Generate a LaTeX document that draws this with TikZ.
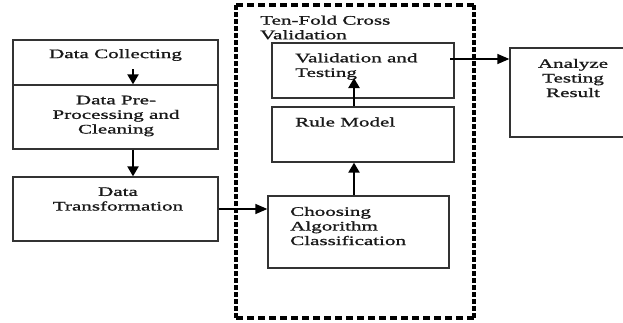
\documentclass[tikz,border=0pt]{standalone}
\usepackage{fontspec}
\setmainfont{Liberation Serif}[FakeStretch=1.62, FakeBold=1.2]
\usetikzlibrary{arrows.meta}

\tikzset{
  box/.style={draw=black!80, line width=1.3pt, rectangle, inner sep=0pt},
  lbl/.style={inner sep=0pt, align=center, font=\fontsize{13}{14.6}\selectfont, text=black!90},
  lbll/.style={lbl, align=left, anchor=west},
  varrow/.style={line width=2.2pt, -{Triangle[length=10pt,width=11pt]}},
  harrow/.style={line width=1.4pt, -{Triangle[length=12pt,width=10pt]}},
  cvbox/.style={line width=3.2pt}
}

\begin{document}
\begin{tikzpicture}[x=1pt,y=-1pt]
\useasboundingbox (0,0) rectangle (623,322);
\clip (0,0) rectangle (623,322);

% left column: collecting, pre-processing, transformation
\node[box, minimum width=205pt, minimum height=45pt] (dc) at (115.5,62.5) {};
\node[box, minimum width=205pt, minimum height=64pt] (dp) at (115.5,117) {};
\node[box, minimum width=205pt, minimum height=64pt] (dt) at (115.5,209) {};
\node[lbl] (dcl) at (115.5,55) {Data Collecting};
\node[lbl] (dpl) at (116,116) {Data Pre-\\Processing and\\Cleaning};
\node[lbl] (dtl) at (118,199) {Data\\Transformation};

% ten-fold cross validation frame
\coordinate (f1) at (236,5);
\coordinate (f2) at (474,5);
\coordinate (f3) at (474,318);
\coordinate (f4) at (236,318);
\draw[cvbox, dash pattern=on 7pt off 4pt] (f1) -- (f2);
\draw[cvbox, dash pattern=on 7pt off 4pt] (f4) -- (f3);
\draw[cvbox, dash pattern=on 4.5pt off 2.5pt] (f1) -- (f4);
\draw[cvbox, dash pattern=on 4.5pt off 2.5pt] (f2) -- (f3);
\node[lbll] (cvl) at (260,27.5) {Ten-Fold Cross\\Validation};

% boxes inside the frame
\node[box, minimum width=182pt, minimum height=55pt] (vt) at (363,70.5) {};
\node[box, minimum width=182pt, minimum height=55pt] (rm) at (363,134.5) {};
\node[box, minimum width=181pt, minimum height=72pt] (ca) at (358.5,232) {};
\node[lbll] (vtl) at (295,66.5) {Validation and\\Testing};
\node[lbll] (rml) at (295,122) {Rule Model};
\node[lbll] (cal) at (290,226) {Choosing\\Algorithm\\Classification};

% result box, running past the right edge
\node[box, minimum width=140pt, minimum height=89pt] (at) at (580,92.5) {};
\node[lbl] (atl) at (573,78) {Analyze\\Testing\\Result};

% connectors
\coordinate (s1) at (133,69);
\draw[varrow] (s1) -- (s1 |- dp.north);
\draw[varrow] ([xshift=17.5pt]dp.south) -- ([xshift=17.5pt]dt.north);
\draw[harrow] (dt.east) -- (dt.east -| ca.west);
\draw[varrow] ([xshift=-4.5pt]ca.north) -- ([xshift=-4.5pt]ca.north |- rm.south);
\coordinate (t1) at (354,78);
\draw[varrow] (rm.north -| t1) -- (t1);
\coordinate (s2) at (450,59);
\draw[harrow] (s2) -- (s2 -| at.west);
\end{tikzpicture}
\end{document}
